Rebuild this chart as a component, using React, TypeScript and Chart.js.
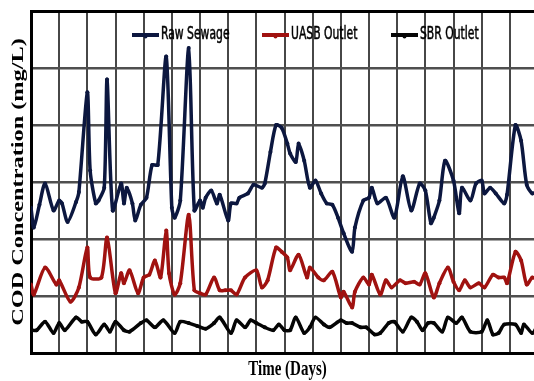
import React, { useEffect, useRef } from "react";
import { Chart, registerables } from "chart.js";

Chart.register(...registerables);

// ---- data (days, COD mg/L) ----
const rawDays = [0,1,3,5,8,10,11,13,16,17,20,21,23,24,26,27,29,32,33,34,36,37,39,41,43,45,48,50,51,53,56,58,60,61,62,64,66,67,70,71,73,74,77,79,82,83,85,87,89,91,92,94,95,97,99,101,103,105,107,109,111,114,115,118,120,121,123,126,129,132,135,138,140,142,143,145,147,150,152,153,156,158,160,161,163,165,168,169,172,174,176,178,180];
const rawValues = [510,440,520,595,500,535,525,460,530,565,915,640,525,535,580,960,500,595,525,580,525,465,520,545,660,660,1040,510,475,535,1070,500,535,510,545,570,525,555,465,525,525,545,560,590,580,595,705,800,790,735,700,670,735,675,580,605,560,525,520,475,420,355,440,535,545,580,525,545,475,620,500,595,570,455,475,535,675,605,490,580,535,595,605,560,580,560,525,555,800,745,590,560,570];

const uasbDays = [0,1,5,9,10,14,17,20,21,25,27,30,32,33,35,38,40,42,44,46,48,49,51,53,56,58,60,62,65,67,69,71,73,76,80,82,84,87,89,91,92,95,98,99,102,104,107,110,111,114,115,118,120,121,124,126,128,131,133,136,138,140,143,145,148,150,152,154,156,159,161,164,166,168,169,172,174,176,178,180];
const uasbValues = [240,205,300,240,255,180,230,370,265,265,405,210,280,245,290,210,265,275,325,265,430,280,205,245,485,220,210,205,265,220,220,220,205,265,290,230,255,370,355,335,290,345,265,300,265,255,285,195,215,160,215,265,240,275,205,255,230,255,245,250,240,280,195,245,300,250,220,255,230,245,230,275,265,265,245,355,325,240,265,255];

const sbrDays = [0,2,5,8,10,12,16,18,20,23,26,28,30,33,35,39,41,44,47,51,53,56,59,62,65,67,71,73,76,78,80,83,86,88,90,92,94,97,99,101,104,106,110,112,114,117,119,122,124,127,129,132,135,137,139,141,143,146,148,151,153,156,160,162,164,166,168,172,174,175,178,180];
const sbrValues = [80,80,110,70,105,80,125,110,110,65,100,75,110,80,75,105,115,90,115,70,110,105,95,85,105,125,70,115,90,115,105,90,80,100,80,80,125,70,90,125,100,90,115,105,105,90,90,65,70,105,110,75,125,110,80,105,105,75,125,105,125,75,75,115,65,70,100,100,70,100,70,100];

const seriesNames = ["Raw Sewage", "UASB Outlet", "SBR Outlet"];
const seriesColors = ["#0c173f", "#a01210", "#050505"];
const yTitle = "COD Concentration (mg/L)";
const xTitle = "Time (Days)";
const xMax = 180;
const xStep = 10;
const yMax = 1200;
const yStep = 200;

const STRETCH = 1.43;
const legendOffsets = [101, 231, 360];

const textPlugin = {
  id: "stretchText",
  afterDraw(chart: any) {
    const { ctx, chartArea } = chart;
    // Y title
    ctx.save();
    ctx.fillStyle = "#000";
    ctx.font = 'bold 17px "Liberation Serif", "Times New Roman", serif';
    ctx.textAlign = "center";
    ctx.textBaseline = "middle";
    ctx.translate(19, (chartArea.top + chartArea.bottom) / 2);
    ctx.rotate(-Math.PI / 2);
    ctx.scale(STRETCH, 1);
    ctx.fillText(yTitle, 0, 0);
    ctx.restore();

    // X title
    ctx.save();
    ctx.fillStyle = "#000";
    ctx.font = 'bold 15px "Liberation Serif", "Times New Roman", serif';
    ctx.textAlign = "center";
    ctx.textBaseline = "alphabetic";
    ctx.translate((chartArea.left + chartArea.right) / 2 + 3, chartArea.bottom + 22);
    ctx.scale(1, STRETCH);
    ctx.fillText(xTitle, 0, 0);
    ctx.restore();

    // Legend
    const ly = chartArea.top + 24;
    seriesNames.forEach((name, i) => {
      const x0 = chartArea.left + legendOffsets[i];
      ctx.save();
      ctx.strokeStyle = seriesColors[i];
      ctx.lineWidth = 4;
      ctx.beginPath();
      ctx.moveTo(x0, ly);
      ctx.lineTo(x0 + 27, ly);
      ctx.stroke();
      ctx.fillStyle = seriesColors[i];
      ctx.beginPath();
      ctx.arc(x0 + 13.5, ly + 1.5, 2, 0, Math.PI * 2);
      ctx.fill();
      ctx.fillStyle = "#000";
      ctx.strokeStyle = "#000";
      ctx.lineWidth = 0.35;
      ctx.font = '12px "Liberation Sans Narrow", "Arial Narrow", "DejaVu Sans Condensed", sans-serif';
      ctx.textAlign = "left";
      ctx.textBaseline = "middle";
      ctx.translate(x0 + 29, ly);
      ctx.scale(1, STRETCH);
      ctx.fillText(name, 0, 0);
      ctx.strokeText(name, 0, 0);
      ctx.restore();
    });
  },
};

function toPoints(days: number[], vals: number[]) {
  return days.map((d, i) => ({ x: d, y: vals[i] }));
}

export default function App() {
  const ref = useRef<HTMLCanvasElement | null>(null);
  useEffect(() => {
    if (!ref.current) return;
    const seriesData = [
      toPoints(rawDays, rawValues),
      toPoints(uasbDays, uasbValues),
      toPoints(sbrDays, sbrValues),
    ];
    const chart = new Chart(ref.current, {
      type: "line",
      data: {
        datasets: seriesNames.map((name, i) => ({
          label: name,
          data: seriesData[i],
          borderColor: seriesColors[i],
          backgroundColor: seriesColors[i],
          borderWidth: 3.5,
          pointRadius: 2,
          pointBorderWidth: 0,
          tension: 0.25,
          fill: false,
        })),
      },
      options: {
        responsive: false,
        animation: false,
        layout: { padding: { left: 31, top: 11, right: 7, bottom: 28 } },
        plugins: { legend: { display: false }, tooltip: { enabled: false } },
        scales: {
          x: {
            type: "linear",
            min: 0,
            max: xMax,
            ticks: { display: false, stepSize: xStep },
            grid: {
              drawTicks: false,
              lineWidth: 2,
              color: (c: any) => (c.tick && c.tick.value === 0 ? "rgba(0,0,0,0)" : "#474747"),
            },
            border: { display: true, color: "#000", width: 3 },
            afterFit: (s: any) => { s.height = 0; },
          },
          y: {
            min: 0,
            max: yMax,
            ticks: { display: false, stepSize: yStep },
            grid: {
              drawTicks: false,
              lineWidth: (c: any) => (c.tick && c.tick.value === yMax ? 3 : 2.5),
              color: (c: any) =>
                c.tick && c.tick.value === yMax ? "#000" : c.tick && c.tick.value === 0 ? "rgba(0,0,0,0)" : "#4f4f4f",
            },
            border: { display: true, color: "#000", width: 3 },
            afterFit: (s: any) => { s.width = 0; },
          },
        },
      },
      plugins: [textPlugin],
    } as any);
    return () => chart.destroy();
  }, []);
  return (
    <div style={{ position: "fixed", left: 0, top: 0, width: 534, height: 381, overflow: "hidden", background: "#fff" }}>
      <canvas ref={ref} width={545} height={381} style={{ display: "block" }} />
    </div>
  );
}
